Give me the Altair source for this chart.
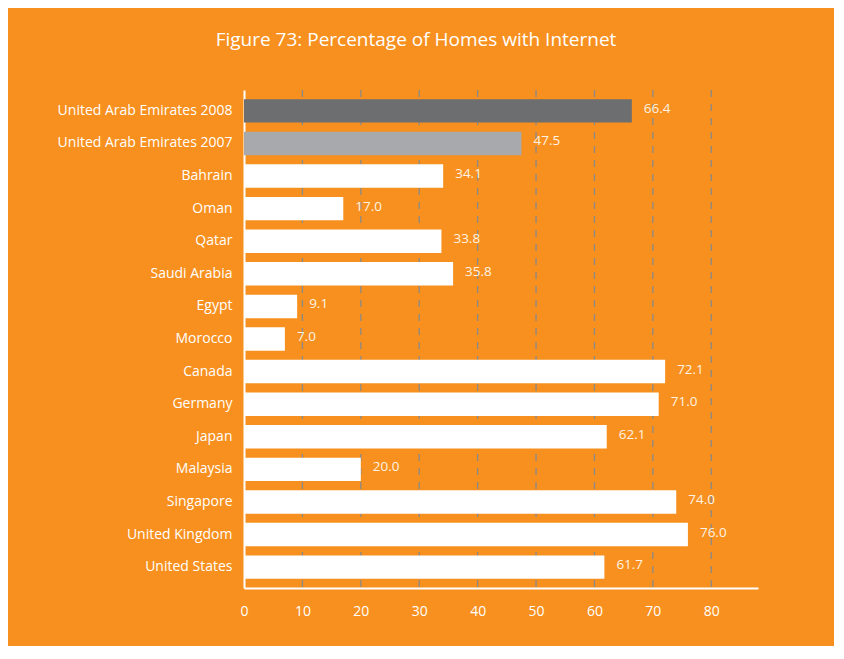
import altair as alt
import pandas as pd

countries = ["United Arab Emirates 2008", "United Arab Emirates 2007", "Bahrain", "Oman",
             "Qatar", "Saudi Arabia", "Egypt", "Morocco", "Canada", "Germany", "Japan",
             "Malaysia", "Singapore", "United Kingdom", "United States"]
values = [66.4, 47.5, 34.1, 17.0, 33.8, 35.8, 9.1, 7.0, 72.1, 71.0, 62.1, 20.0, 74.0, 76.0, 61.7]
groups = ["uae2008", "uae2007"] + ["other"] * 13
tick_values = [0, 10, 20, 30, 40, 50, 60, 70, 80]

df = pd.DataFrame({"country": countries, "value": values, "group": groups,
                   "label": [f"{v:.1f}" for v in values]})

ORANGE = "#F7901E"
FONT = "Open Sans"

y_enc = alt.Y("country:N", sort=None, title=None,
              scale=alt.Scale(paddingInner=0.28, paddingOuter=0.28),
              axis=alt.Axis(labelColor="white", labelFontSize=14, labelFont=FONT,
                            ticks=False, labelPadding=12, domainColor="white",
                            domainWidth=2, grid=False))
x_scale = alt.Scale(domain=[0, 88], nice=False)

grid = alt.Chart(pd.DataFrame({"t": tick_values[1:]})).mark_rule(
    color="#8A8A8A", strokeDash=[7, 7], strokeWidth=1.3
).encode(x=alt.X("t:Q", scale=x_scale))

bars = alt.Chart(df).mark_bar().encode(
    x=alt.X("value:Q", scale=x_scale, title=None,
            axis=alt.Axis(values=tick_values, grid=False, ticks=False, labelColor="white",
                          labelFontSize=14, labelFont=FONT, labelPadding=16,
                          domainColor="white", domainWidth=2, labelFlush=False)),
    y=y_enc,
    color=alt.Color("group:N", legend=None,
                    scale=alt.Scale(domain=["uae2008", "uae2007", "other"],
                                    range=["#6D6E70", "#A7A9AC", "#FFFFFF"])),
)

text = alt.Chart(df).mark_text(align="left", baseline="middle", dx=12, dy=-2,
                                color="#FFF3E3", fontSize=13.5, font=FONT).encode(
    x=alt.X("value:Q", scale=x_scale),
    y=alt.Y("country:N", sort=None),
    text="label:N",
)

chart = alt.layer(grid, bars, text).properties(
    width=514, height=498,
    padding={"left": 236, "top": 82, "right": 76, "bottom": 58},
    autosize=alt.AutoSizeParams(type="none"),
    background=ORANGE,
    title=alt.TitleParams("Figure 73: Percentage of Homes with Internet", color="white",
                          fontSize=19, font=FONT, fontWeight="normal", anchor="middle",
                          dx=-85, offset=39),
).configure_view(stroke=None)

chart.save("out.html", embed_options={"renderer": "svg", "actions": False})
